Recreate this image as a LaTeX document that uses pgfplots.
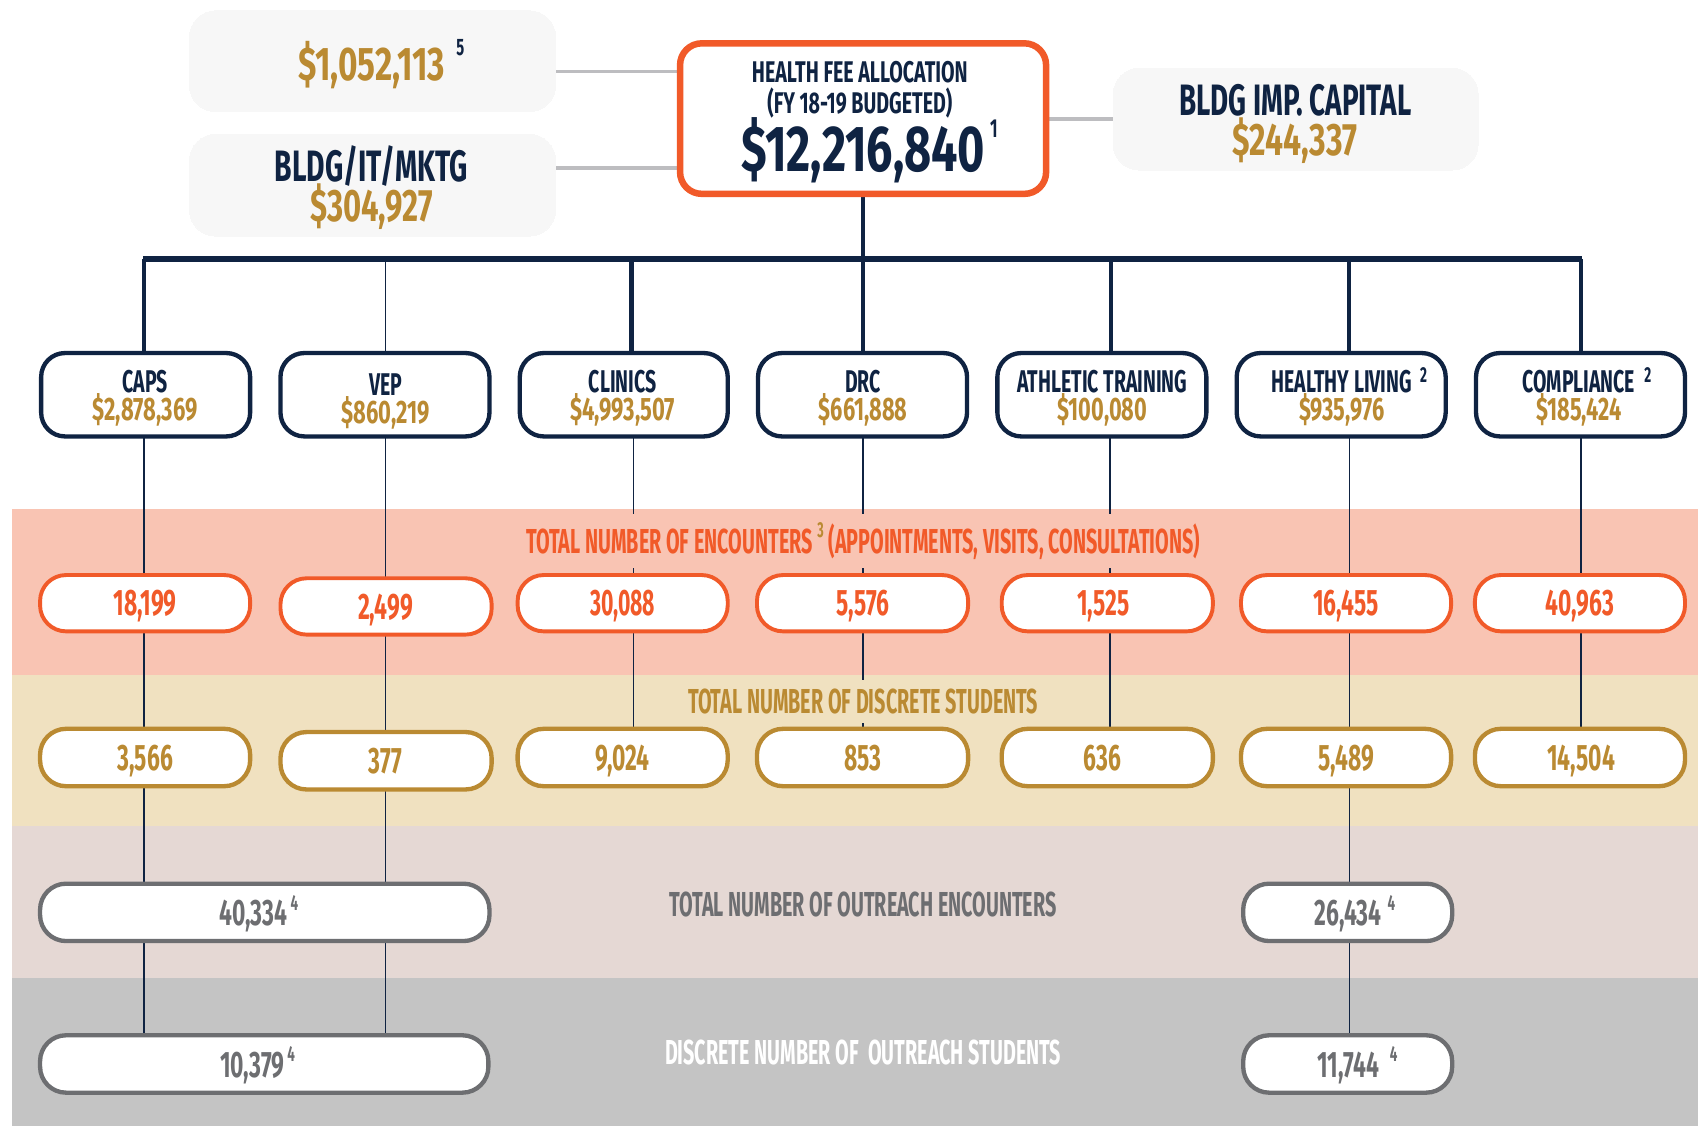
\documentclass[border=0pt]{standalone}
\usepackage{pgfplots}
\pgfplotsset{compat=1.18}
\usepackage{fontspec}
\setmainfont{Fira Sans}[FakeStretch=0.62]
\definecolor{navy}{HTML}{0F2342}
\definecolor{gold}{HTML}{BA8A32}
\definecolor{orng}{HTML}{F15A29}
\definecolor{bandA}{HTML}{F9C4B3}
\definecolor{bandB}{HTML}{F0E1C0}
\definecolor{bandC}{HTML}{E5D8D4}
\definecolor{bandD}{HTML}{C4C4C4}
\definecolor{boxgray}{HTML}{F7F7F7}
\definecolor{outgray}{HTML}{6D6E71}
\definecolor{lingray}{HTML}{BDBDC0}
% text: [hscale] x, y(mid-cap), size, color, text
\newcommand{\T}[6][1]{\node[font=\fontsize{#4}{#4}\selectfont\bfseries, text=#5, inner sep=0pt, anchor=base] at (axis cs:#2,{#3+0.689*#4}) {\scalebox{#1}[1]{#6}};}
% superscript: x(left), y(mid), size, color, text
\newcommand{\SP}[5]{\node[font=\fontsize{#3}{#3}\selectfont\bfseries, text=#4, inner sep=0pt, anchor=base west] at (axis cs:#1,{#2+0.689*#3}) {#5};}
% band title: x, y, size, color, fill, text
\newcommand{\BT}[6]{\node[font=\fontsize{#3}{#3}\selectfont\bfseries, text=#4, fill=#5, inner xsep=3pt, inner ysep=4pt, anchor=base] at (axis cs:#1,{#2+0.689*#3}) {\scalebox{0.92}[1]{#6}};}
% box: x1,y1,x2,y2, draw, fill, width, radius
\newcommand{\B}[8]{\draw[draw=#5, fill=#6, line width=#7, rounded corners=#8] (axis cs:#1,#2) rectangle (axis cs:#3,#4);}
\begin{document}
\begin{tikzpicture}
\begin{axis}[x=0.5pt, y=0.5pt, y dir=reverse, xmin=0, xmax=1568, ymin=0, ymax=1040,
  axis lines=none, clip=false, scale only axis]
% frame (sets the picture's extent)
\addplot[draw=none, forget plot] coordinates {(0,0) (1568,1040)};
\path (axis cs:0,0) rectangle (axis cs:1568,1040);
% bands
\addplot[fill=bandA, draw=none] coordinates {(11,470) (1568,470) (1568,623) (11,623)} -- cycle;
\addplot[fill=bandB, draw=none] coordinates {(11,623) (1568,623) (1568,763) (11,763)} -- cycle;
\addplot[fill=bandC, draw=none] coordinates {(11,763) (1568,763) (1568,903) (11,903)} -- cycle;
\addplot[fill=bandD, draw=none] coordinates {(11,903) (1568,903) (1568,1040) (11,1040)} -- cycle;
% grey connectors
\addplot[lingray, line width=1.6pt] coordinates {(513,66) (628,66)};
\addplot[lingray, line width=1.6pt] coordinates {(513,155) (628,155)};
\addplot[lingray, line width=1.6pt] coordinates {(966,110) (1028,110)};
% thick tree
\addplot[navy, line width=2.2pt] coordinates {(797,181) (797,239)};
\addplot[navy, line width=2.6pt] coordinates {(132,239) (1461,239)};
\addplot[navy, line width=2pt] coordinates {(133,239) (133,326)};
\addplot[navy, line width=0.7pt] coordinates {(356,239) (356,326)};
\addplot[navy, line width=2pt] coordinates {(583,239) (583,326)};
\addplot[navy, line width=2pt] coordinates {(797,239) (797,326)};
\addplot[navy, line width=2pt] coordinates {(1026,239) (1026,326)};
\addplot[navy, line width=2pt] coordinates {(1246,239) (1246,326)};
\addplot[navy, line width=2pt] coordinates {(1460,239) (1460,326)};
% thin drops
\addplot[navy, line width=0.7pt] coordinates {(133,403) (133,956)};
\addplot[navy, line width=0.7pt] coordinates {(356,403) (356,956)};
\addplot[navy, line width=0.7pt] coordinates {(585,403) (585,673)};
\addplot[navy, line width=0.7pt] coordinates {(797,403) (797,673)};
\addplot[navy, line width=0.7pt] coordinates {(1025,403) (1025,673)};
\addplot[navy, line width=0.7pt] coordinates {(1246,403) (1246,956)};
\addplot[navy, line width=0.7pt] coordinates {(1460,403) (1460,673)};
% top boxes
\B{175}{10}{513}{103}{boxgray}{boxgray}{0pt}{12pt}
\B{175}{124}{513}{218}{boxgray}{boxgray}{0pt}{12pt}
\B{1028}{63}{1365}{157}{boxgray}{boxgray}{0pt}{12pt}
\B{628}{40}{966}{179}{orng}{white}{3pt}{10pt}
% department boxes
\B{38}{326}{231}{403}{navy}{white}{2pt}{11pt}
\B{259}{326}{452}{403}{navy}{white}{2pt}{11pt}
\B{480}{326}{672}{403}{navy}{white}{2pt}{11pt}
\B{700}{326}{893}{403}{navy}{white}{2pt}{11pt}
\B{921}{326}{1114}{403}{navy}{white}{2pt}{11pt}
\B{1142}{326}{1335}{403}{navy}{white}{2pt}{11pt}
\B{1363}{326}{1556}{403}{navy}{white}{2pt}{11pt}
% encounters boxes
\B{37}{531}{231}{583}{orng}{white}{1.8pt}{12pt}
\B{259}{534}{454}{586}{orng}{white}{1.8pt}{12pt}
\B{478}{531}{672}{583}{orng}{white}{1.8pt}{12pt}
\B{699}{531}{894}{583}{orng}{white}{1.8pt}{12pt}
\B{925}{531}{1120}{583}{orng}{white}{1.8pt}{12pt}
\B{1146}{531}{1340}{583}{orng}{white}{1.8pt}{12pt}
\B{1362}{531}{1556}{583}{orng}{white}{1.8pt}{12pt}
% discrete boxes
\B{37}{673}{231}{726}{gold}{white}{2pt}{12pt}
\B{259}{676}{454}{729}{gold}{white}{2pt}{12pt}
\B{478}{673}{672}{726}{gold}{white}{2pt}{12pt}
\B{699}{673}{894}{726}{gold}{white}{2pt}{12pt}
\B{925}{673}{1120}{726}{gold}{white}{2pt}{12pt}
\B{1146}{673}{1340}{726}{gold}{white}{2pt}{12pt}
\B{1362}{673}{1556}{726}{gold}{white}{2pt}{12pt}
% outreach boxes
\B{37}{816}{452}{869}{outgray}{white}{2pt}{12pt}
\B{1148}{816}{1341}{869}{outgray}{white}{2pt}{12pt}
\B{37}{956}{451}{1009}{outgray}{white}{2pt}{12pt}
\B{1148}{956}{1341}{1009}{outgray}{white}{2pt}{12pt}
% top texts
\T[1.14]{343}{59}{21.8}{gold}{\$1,052,113}
\SP{421}{44}{11}{navy}{5}
\T[1.04]{343}{154}{20.3}{navy}{BLDG/IT/MKTG}
\T[1.1]{343}{190}{21}{gold}{\$304,927}
\T[1.02]{1196}{93}{20.3}{navy}{BLDG IMP. CAPITAL}
\T[1.13]{1196}{129}{21}{gold}{\$244,337}
\T[1.06]{794}{67}{13.8}{navy}{HEALTH FEE ALLOCATION}
\T[1.06]{794}{95}{13.8}{navy}{(FY 18-19 BUDGETED)}
\T[1.16]{797}{138}{30}{navy}{\$12,216,840}
\SP{914}{119}{12}{navy}{1}
% departments
\T{134}{352}{14.5}{navy}{CAPS}
\T[1.09]{134}{378}{15}{gold}{\$2,878,369}
\T{356}{355}{14.5}{navy}{VEP}
\T[1.09]{356}{381}{15}{gold}{\$860,219}
\T{575}{352}{14.5}{navy}{CLINICS}
\T[1.09]{575}{378}{15}{gold}{\$4,993,507}
\T{797}{352}{14.5}{navy}{DRC}
\T[1.08]{797}{378}{15}{gold}{\$661,888}
\T{1018}{352}{14.5}{navy}{ATHLETIC TRAINING}
\T[1.08]{1018}{378}{15}{gold}{\$100,080}
\T{1239}{352}{14.5}{navy}{HEALTHY LIVING}
\SP{1311}{346}{10}{navy}{2}
\T[1.08]{1239}{378}{15}{gold}{\$935,976}
\T{1458}{352}{14.5}{navy}{COMPLIANCE}
\SP{1518}{346}{10}{navy}{2}
\T[1.08]{1458}{378}{15}{gold}{\$185,424}
% encounters
\T{134}{557}{17}{orng}{18,199}
\T{356}{560}{17}{orng}{2,499}
\T[0.93]{575}{557}{17}{orng}{30,088}
\T{797}{557}{17}{orng}{5,576}
\T{1019}{557}{17}{orng}{1,525}
\T{1243}{557}{17}{orng}{16,455}
\T{1459}{557}{17}{orng}{40,963}
% discrete
\T{134}{700}{17}{gold}{3,566}
\T{356}{703}{17}{gold}{377}
\T{575}{700}{17}{gold}{9,024}
\T{797}{700}{17}{gold}{853}
\T{1018}{700}{17}{gold}{636}
\T{1243}{700}{17}{gold}{5,489}
\T{1460}{700}{17}{gold}{14,504}
% outreach
\T{234}{843}{17}{outgray}{40,334}
\SP{268}{834}{10}{outgray}{4}
\T{1245}{843}{17}{outgray}{26,434}
\SP{1281}{834}{10}{outgray}{4}
\T{233}{983}{17}{outgray}{10,379}
\SP{265}{973}{10}{outgray}{4}
\T{1245}{983}{17}{outgray}{11,744}
\SP{1283}{973}{10}{outgray}{4}
% band titles
\BT{797}{500}{16}{orng}{bandA}{TOTAL NUMBER OF ENCOUNTERS \raisebox{0.45em}{\fontsize{10}{10}\selectfont\color{gold}3} (APPOINTMENTS, VISITS, CONSULTATIONS)}
\BT{797}{648}{16}{gold}{bandB}{TOTAL NUMBER OF DISCRETE STUDENTS}
\BT{797}{835}{16}{outgray}{bandC}{TOTAL NUMBER OF OUTREACH ENCOUNTERS}
\BT{797}{972}{16}{white}{bandD}{DISCRETE NUMBER OF\ \ OUTREACH STUDENTS}
\end{axis}
\end{tikzpicture}
\end{document}
